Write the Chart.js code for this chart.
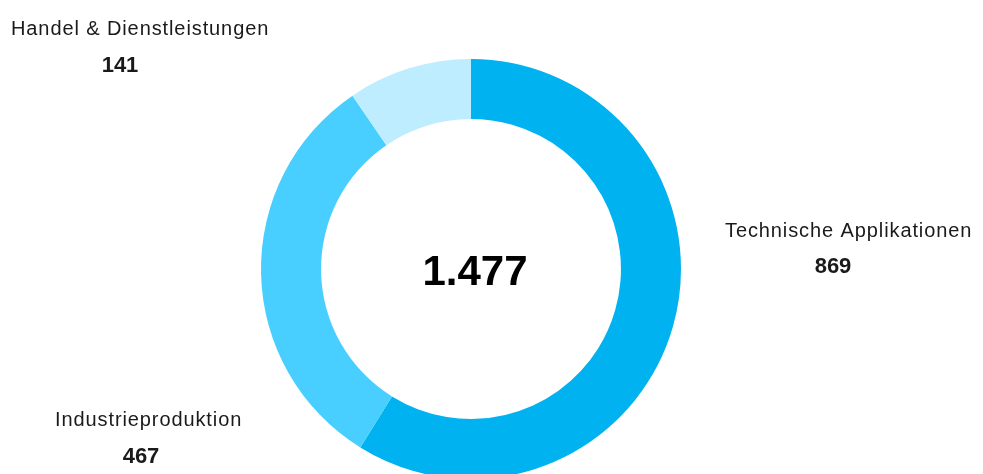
<!DOCTYPE html>
<html>
<head>
<meta charset="utf-8">
<script src="https://cdn.jsdelivr.net/npm/chart.js@4"></script>
<style>
  html, body { margin: 0; padding: 0; background: #fff; overflow: hidden; }
  #wrap { width: 983px; height: 500px; position: relative; }
</style>
</head>
<body>
<div id="wrap"><canvas id="c" width="983" height="500"></canvas></div>
<script>
const categories = ["Technische Applikationen", "Industrieproduktion", "Handel & Dienstleistungen"];
const values = [869, 467, 141];
const colors = ["#00B2F0", "#48CEFF", "#BDEDFF"];
const totalLabel = "1.477";

// label placement (layout only)
const labelPos = [
  { x: 725, y: 237, nx: 833, ny: 273 },
  { x: 55,  y: 426, nx: 141, ny: 463 },
  { x: 11,  y: 35,  nx: 120, ny: 72 }
];

const labelsPlugin = {
  id: 'labelsPlugin',
  afterDraw(chart) {
    const ctx = chart.ctx;
    ctx.save();
    ctx.fillStyle = '#1a1a1a';
    ctx.textBaseline = 'alphabetic';
    categories.forEach((name, i) => {
      const p = labelPos[i];
      ctx.font = '20px "Liberation Sans", Arial, sans-serif';
      ctx.letterSpacing = '0.9px';
      ctx.textAlign = 'left';
      ctx.fillText(name, p.x, p.y);
      ctx.font = 'bold 22px "Liberation Sans", Arial, sans-serif';
      ctx.letterSpacing = '0px';
      ctx.textAlign = 'center';
      ctx.fillText(String(values[i]), p.nx, p.ny);
    });
    const meta = chart.getDatasetMeta(0);
    const arc = meta.data[0];
    ctx.letterSpacing = '0px';
    ctx.font = 'bold 42px "Liberation Sans", Arial, sans-serif';
    ctx.textAlign = 'center';
    ctx.fillStyle = '#000';
    ctx.fillText(totalLabel, arc.x + 4, arc.y + 16);
    ctx.restore();
  }
};

new Chart(document.getElementById('c'), {
  type: 'doughnut',
  data: {
    labels: categories,
    datasets: [{
      data: values,
      backgroundColor: colors,
      borderWidth: 0,
      hoverOffset: 0
    }]
  },
  options: {
    responsive: false,
    animation: false,
    cutout: '71.4%',
    layout: { padding: { top: 59, bottom: 21, left: 0, right: 41 } },
    plugins: { legend: { display: false }, tooltip: { enabled: false } }
  },
  plugins: [labelsPlugin]
});
</script>
</body>
</html>
